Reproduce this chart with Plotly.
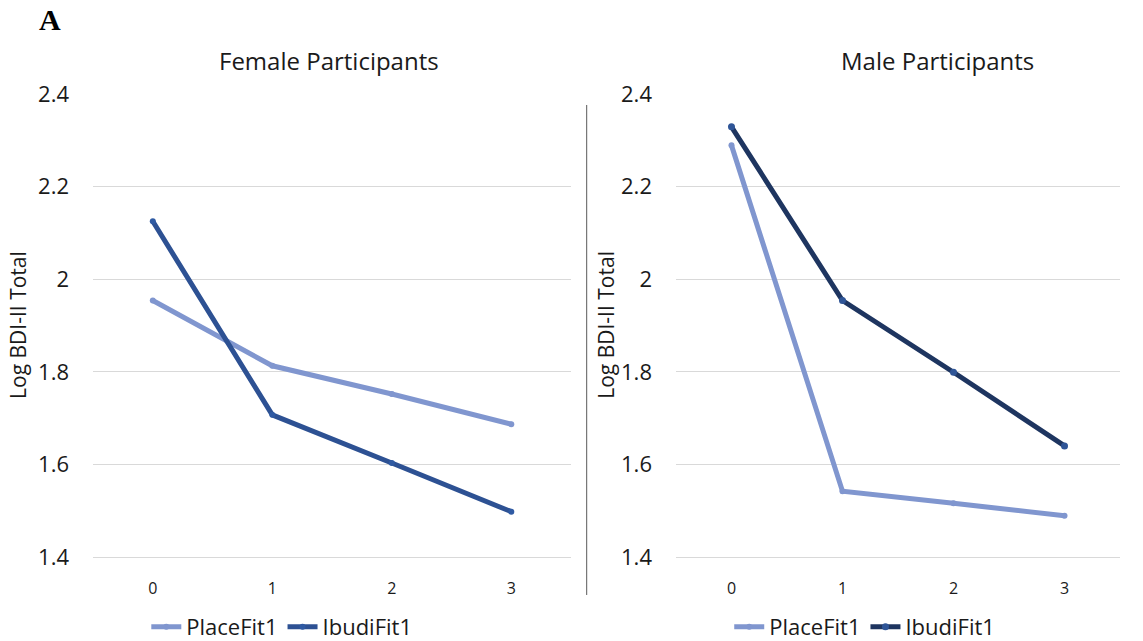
import plotly.graph_objects as go

# Timepoints and fitted log BDI-II totals per group
timepoints = [0, 1, 2, 3]
tick_labels = ["0", "1", "2", "3"]

female_placefit = [1.954, 1.813, 1.752, 1.687]
female_ibudifit = [2.125, 1.707, 1.603, 1.498]

male_placefit = [2.289, 1.542, 1.516, 1.489]
male_ibudifit = [2.329, 1.954, 1.799, 1.640]

y_ticks = [1.4, 1.6, 1.8, 2.0, 2.2, 2.4]
y_tick_text = ["1.4", "1.6", "1.8", "2", "2.2", "2.4"]

FONT = "Open Sans"
TEXT = "#1a1a1a"
PLACE_COLOR = "#8096cf"
IBUDI_F_COLOR = "#2d5193"
IBUDI_M_COLOR = "#1e3560"
GRID = "#d9d9d9"
LINE_W = 5

fig = go.Figure()

fig.add_trace(go.Scatter(
    x=timepoints, y=female_placefit, name="PlaceFit1", mode="lines+markers",
    line=dict(color=PLACE_COLOR, width=LINE_W), marker=dict(size=6, color=PLACE_COLOR),
    xaxis="x", yaxis="y", legend="legend"))
fig.add_trace(go.Scatter(
    x=timepoints, y=female_ibudifit, name="IbudiFit1", mode="lines+markers",
    line=dict(color=IBUDI_F_COLOR, width=LINE_W), marker=dict(size=6, color="#2f5aa3"),
    xaxis="x", yaxis="y", legend="legend"))
fig.add_trace(go.Scatter(
    x=timepoints, y=male_placefit, name="PlaceFit1", mode="lines+markers",
    line=dict(color=PLACE_COLOR, width=LINE_W), marker=dict(size=6, color=PLACE_COLOR),
    xaxis="x2", yaxis="y2", legend="legend2"))
fig.add_trace(go.Scatter(
    x=timepoints, y=male_ibudifit, name="IbudiFit1", mode="lines+markers",
    line=dict(color=IBUDI_M_COLOR, width=LINE_W), marker=dict(size=7, color="#2f5597"),
    xaxis="x2", yaxis="y2", legend="legend2"))

xaxis_common = dict(
    range=[-0.5, 3.5], tickvals=timepoints, ticktext=tick_labels,
    showgrid=False, zeroline=False, showline=True, linecolor=GRID, linewidth=1,
    ticks="", ticklabelstandoff=17,
    tickfont=dict(family=FONT, size=16, color=TEXT),
    fixedrange=True)
yaxis_common = dict(
    range=[1.4, 2.4], tickvals=y_ticks, ticktext=y_tick_text,
    showgrid=True, gridcolor=GRID, gridwidth=1, zeroline=False, showline=False,
    ticks="", ticklabelstandoff=23,
    tickfont=dict(family=FONT, size=22, color=TEXT),
    fixedrange=True)

legend_common = dict(
    orientation="h", yanchor="middle", xanchor="left",
    font=dict(family=FONT, size=22, color=TEXT),
    bgcolor="rgba(0,0,0,0)", itemwidth=30, tracegroupgap=0)

axis_title_font = dict(family=FONT, size=21, color=TEXT)

fig.update_layout(
    width=1143, height=641,
    margin=dict(l=0, r=0, t=0, b=0, autoexpand=False),
    paper_bgcolor="white", plot_bgcolor="white",
    showlegend=True,
    xaxis=dict(domain=[0.0814, 0.4996], anchor="y", **xaxis_common),
    yaxis=dict(domain=[0.1310, 0.8534], anchor="x", **yaxis_common),
    xaxis2=dict(domain=[0.5914, 0.9799], anchor="y2", **xaxis_common),
    yaxis2=dict(domain=[0.1310, 0.8534], anchor="x2", **yaxis_common),
    legend=dict(x=0.128, y=0.0218, **legend_common),
    legend2=dict(x=0.638, y=0.0218, **legend_common),
    annotations=[
        dict(text="<b>A</b>", x=0.0324, y=0.969, xref="paper", yref="paper",
             xanchor="left", yanchor="middle", showarrow=False,
             font=dict(family="Liberation Serif", size=30, color="black")),
        dict(text="Female Participants", x=0.2878, y=0.906, xref="paper", yref="paper",
             xanchor="center", yanchor="middle", showarrow=False,
             font=dict(family=FONT, size=24, color=TEXT)),
        dict(text="Male Participants", x=0.820, y=0.906, xref="paper", yref="paper",
             xanchor="center", yanchor="middle", showarrow=False,
             font=dict(family=FONT, size=24, color=TEXT)),
        dict(text="Log BDI-II Total", x=0.0157, y=0.493, xref="paper", yref="paper",
             xanchor="center", yanchor="middle", textangle=-90, showarrow=False,
             font=axis_title_font),
        dict(text="Log BDI-II Total", x=0.530, y=0.493, xref="paper", yref="paper",
             xanchor="center", yanchor="middle", textangle=-90, showarrow=False,
             font=axis_title_font),
    ],
    shapes=[
        dict(type="line", xref="paper", yref="paper", x0=0.5133, x1=0.5133,
             y0=0.0718, y1=0.8362, line=dict(color="#595959", width=1)),
    ],
)

fig.write_html("out.html")
